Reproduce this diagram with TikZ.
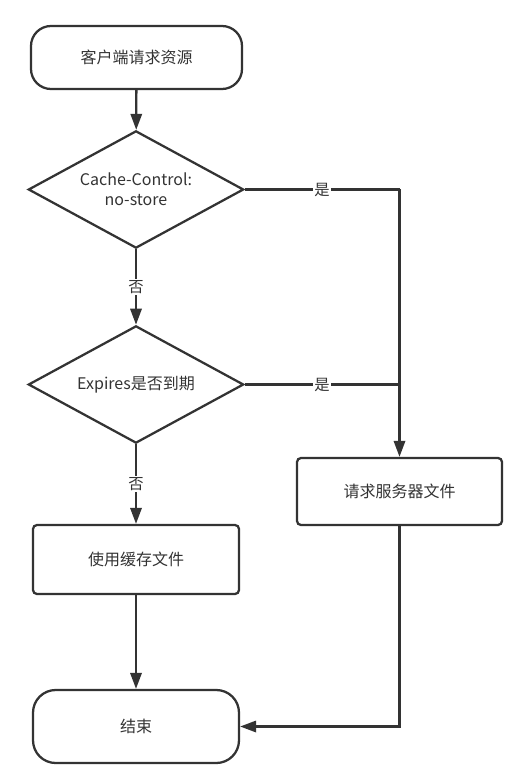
\documentclass[tikz,border=0pt]{standalone}
\usepackage{fontspec}
\setmainfont{Noto Sans CJK SC}
\usetikzlibrary{shapes.geometric,arrows.meta}
\definecolor{ink}{HTML}{333333}
\tikzset{
  px/.style={x=0.75pt,y=-0.75pt},
  base/.style={draw=ink,line width=1.7pt,text=ink,font=\fontsize{12pt}{15pt}\selectfont,align=center,inner sep=0pt},
  term/.style={base,rounded corners=15pt,minimum width=158.25pt,minimum height=47.25pt},
  proc/.style={base,rounded corners=3pt},
  decision/.style={base,diamond,aspect=1.83,minimum width=161.5pt,minimum height=88pt},
  conn/.style={draw=ink,line width=1.7pt,-{Triangle[length=12pt,width=8.5pt]}},
  line/.style={draw=ink,line width=1.7pt},
  lbl/.style={fill=white,text=ink,font=\fontsize{11.5pt}{13pt}\selectfont,inner sep=1pt}
}
\begin{document}
\begin{tikzpicture}[px]
\useasboundingbox (0,0) rectangle (531,777);
\node[term] (start) at (136.5,57.5) {客户端请求资源};
\node[decision] (d1) at (136,189.5) {Cache-Control:\\no-store};
\node[decision] (d2) at (136,384.5) {Expires是否到期};
\node[proc,minimum width=153.75pt,minimum height=50.25pt] (req) at (399.5,491.5) {请求服务器文件};
\node[proc,minimum width=154.5pt,minimum height=51.75pt] (use) at (136,559.5) {使用缓存文件};
\node[term,minimum width=154.5pt,minimum height=54.75pt,rounded corners=17pt] (end) at (136,726.5) {结束};
\coordinate (j1) at (d1.east -| req.north);
\coordinate (j2) at (d2.east -| req.north);
\draw[conn] (start) -- (d1);
\draw[line] (d1.east) -- node[lbl]{是} (j1);
\draw[conn] (j1) -- (req.north);
\draw[line] (d2.east) -- node[lbl]{是} (j2);
\draw[conn] (d1.south) -- node[lbl]{否} (d2.north);
\draw[conn] (d2.south) -- node[lbl]{否} (use.north);
\draw[conn] (use.south) -- (end.north);
\draw[conn] (req.south) |- (end.east);
\end{tikzpicture}
\end{document}
